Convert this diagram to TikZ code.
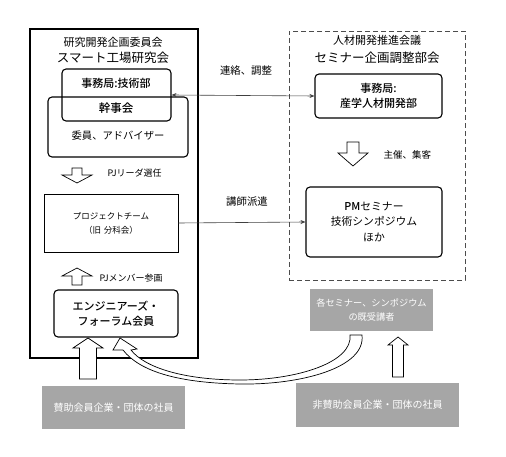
\documentclass[tikz,border=0pt]{standalone}
\usepackage{fontspec}
\setmainfont{Noto Sans CJK JP}[BoldFont={Noto Sans CJK JP Medium}]
\usetikzlibrary{arrows.meta}
\begin{document}
\begin{tikzpicture}[x=1pt, y=-1pt,
  frame/.style={draw, line width=1.4pt},
  dashframe/.style={draw=black!70, line width=0.9pt, dash pattern=on 5pt off 3pt},
  panel/.style={draw, rounded corners=4pt, line width=1.1pt, align=center},
  plainbox/.style={draw, line width=0.6pt, align=center},
  graybox/.style={fill=black!35, text=white, align=center},
  note/.style={font=\fontsize{9}{11}\selectfont, anchor=west},
  link/.style={draw=black!75, line width=0.6pt, -{Stealth[length=5pt,width=4pt]}},
  openarrow/.style={draw, line width=0.7pt, fill=white, line join=miter}
]
\useasboundingbox (0,0) rectangle (506,457);
% left side: research committee
\node[frame, minimum width=168pt, minimum height=329pt] (committee) at (114,193.5) {};
\node[font=\fontsize{11}{13}\selectfont] (lab1) at (113,42) {研究開発企画委員会};
\node[font=\fontsize{12.5}{14}\selectfont] (lab2) at (113,58) {スマート工場研究会};
\node[panel, minimum width=140pt, minimum height=60pt] (kanji) at (118,127) {};
\node[panel, minimum width=109pt, minimum height=52pt] (jimu) at (116.5,95) {};
\node[font=\bfseries\fontsize{11}{13}\selectfont] (jimutxt) at (116,83) {事務局:技術部};
\node[font=\bfseries\fontsize{11.5}{13}\selectfont] (kanjitxt) at (116,108) {幹事会};
\node[font=\fontsize{10.3}{12}\selectfont] (iin) at (118,136) {委員、アドバイザー};
\draw[openarrow] (72,168) -- (82,168) -- (82,175) -- (92,175) -- (77,183) -- (62,175) -- (72,175) -- cycle;
\node[note] (pjlead) at (104,173) {PJリーダ選任};
\node[plainbox, minimum width=134pt, minimum height=58pt, font=\fontsize{8.5}{14}\selectfont] (pj) at (111,223) {プロジェクトチーム\\（旧\hspace{0.3em}分科会）};
\draw[openarrow] (72,285) -- (82,285) -- (82,276) -- (92,276) -- (77,268) -- (62,276) -- (72,276) -- cycle;
\node[note] (pjmem) at (96,278) {PJメンバー参画};
\node[panel, minimum width=124pt, minimum height=47pt, font=\bfseries\fontsize{11}{15}\selectfont] (forum) at (116,313.5) {エンジニアーズ・\\フォーラム会員};
% right side: seminar council
\node[dashframe, minimum width=176pt, minimum height=249pt] (council) at (377,155.5) {};
\node[font=\fontsize{11}{13}\selectfont] (lab3) at (377,40) {人材開発推進会議};
\node[font=\fontsize{12.5}{14}\selectfont] (lab4) at (377,58) {セミナー企画調整部会};
\node[panel, minimum width=127pt, minimum height=44pt, font=\bfseries\fontsize{11}{15}\selectfont] (sangaku) at (378.5,96) {事務局:\\産学人材開発部};
\draw[openarrow] (347,142) -- (359,142) -- (359,153) -- (368,153) -- (353,166) -- (338,153) -- (347,153) -- cycle;
\node[note, font=\fontsize{9.5}{11}\selectfont] (shusai) at (380,155) {主催、集客};
\node[panel, minimum width=136pt, minimum height=70pt, font=\fontsize{10.8}{15.5}\selectfont] (pm) at (374,222) {\textbf{PM}セミナー\\技術シンポジウム\\ほか};
% links between the two sides
\draw[link, {Stealth[length=5pt,width=4pt]}-{Stealth[length=5pt,width=4pt]}] (jimu.east) -- (sangaku.west);
\node[font=\fontsize{10.4}{12}\selectfont] (renraku) at (246,71) {連絡、調整};
\draw[link] (pj.east) -- (pm.west);
\node[font=\fontsize{10.4}{12}\selectfont] (koshi) at (247,202) {講師派遣};
% participants
\node[graybox, minimum width=123pt, minimum height=42pt, font=\fontsize{9.2}{14}\selectfont] (alumni) at (371.5,310) {各セミナー、シンポジウム\\の既受講者};
\node[graybox, minimum width=143pt, minimum height=43pt, font=\fontsize{10}{12}\selectfont] (sanjo) at (113.5,407.5) {賛助会員企業・団体の社員};
\node[graybox, minimum width=163pt, minimum height=44pt, font=\fontsize{10}{12}\selectfont] (hisanjo) at (377.5,405) {非賛助会員企業・団体の社員};
\draw[openarrow] (79.5,379) -- (96.5,379) -- (96.5,348) -- (103,348) -- (88,338) -- (73,348) -- (79.5,348) -- cycle;
\draw[openarrow] (392.5,377) -- (403.5,377) -- (403.5,345) -- (408,345) -- (398,337) -- (388,345) -- (392.5,345) -- cycle;
\draw[openarrow] (362,335) .. controls (366,368) and (300,385) .. (240,384)
  .. controls (180,383) and (140,372) .. (123,350) -- (113,350) -- (120,338) -- (137,349) -- (131,350)
  .. controls (145,368) and (185,380) .. (240,380) .. controls (298,380) and (353,362) .. (350,335) -- cycle;
\end{tikzpicture}
\end{document}
